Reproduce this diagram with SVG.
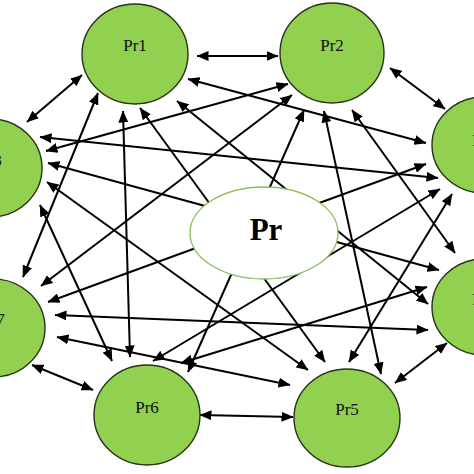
<svg xmlns="http://www.w3.org/2000/svg" width="474" height="474" viewBox="0 0 474 474">
<style>
.node{fill:#92d050;stroke:#26331a;stroke-width:1.4}
.lbl{font-family:"Liberation Serif",serif;font-size:17px;fill:#111;text-anchor:middle}
.edge line{stroke:#000;stroke-width:2;marker-start:url(#ah);marker-end:url(#ah)}
.center{fill:#fff;stroke:#8cbf5c;stroke-width:1.3}
.clbl{font-family:"Liberation Serif",serif;font-size:31px;font-weight:bold;fill:#000;text-anchor:middle}
</style>
<defs>
<marker id="ah" viewBox="0 0 12 10" refX="11.5" refY="5" markerWidth="12" markerHeight="10" markerUnits="userSpaceOnUse" orient="auto-start-reverse">
<path d="M0,0 L12,5 L0,10 z" fill="#000"/>
</marker>
</defs>
<rect width="474" height="474" fill="#fff"/>
<g id="connectors" class="edge">
<line x1="278" y1="56" x2="197" y2="56"/>
<line x1="390" y1="68" x2="445" y2="109"/>
<line x1="395" y1="383" x2="447" y2="343"/>
<line x1="200" y1="415" x2="293" y2="417"/>
<line x1="32" y1="365" x2="93" y2="390"/>
<line x1="27" y1="122" x2="82" y2="75"/>
<line x1="188" y1="79" x2="426" y2="143"/>
<line x1="177" y1="101" x2="428" y2="304"/>
<line x1="140" y1="108" x2="325" y2="362"/>
<line x1="123" y1="111" x2="130" y2="357"/>
<line x1="98" y1="93" x2="23" y2="277"/>
<line x1="288" y1="84" x2="46" y2="151"/>
<line x1="292" y1="95" x2="41" y2="286"/>
<line x1="304" y1="110" x2="188" y2="372"/>
<line x1="324" y1="111" x2="381" y2="374"/>
<line x1="352" y1="110" x2="455" y2="253"/>
<line x1="438" y1="178" x2="40" y2="137"/>
<line x1="426" y1="164" x2="48" y2="302"/>
<line x1="440" y1="189" x2="153" y2="361"/>
<line x1="452" y1="194" x2="349" y2="362"/>
<line x1="439" y1="270" x2="48" y2="163"/>
<line x1="428" y1="330" x2="55" y2="315"/>
<line x1="427" y1="287" x2="181" y2="363"/>
<line x1="308" y1="370" x2="47" y2="182"/>
<line x1="290" y1="385" x2="57" y2="337"/>
<line x1="112" y1="361" x2="40" y2="205"/>
</g>
<g id="Pr1"><ellipse class="node" cx="135" cy="54" rx="53" ry="50"/><text class="lbl" x="135" y="51">Pr1</text></g>
<g id="Pr2"><ellipse class="node" cx="332" cy="53" rx="52" ry="50"/><text class="lbl" x="332" y="51">Pr2</text></g>
<g id="Pr3"><ellipse class="node" cx="484" cy="145" rx="52" ry="48"/><text class="lbl" x="484" y="146">Pr3</text></g>
<g id="Pr4"><ellipse class="node" cx="484" cy="307" rx="52" ry="48"/><text class="lbl" x="484" y="305">Pr4</text></g>
<g id="Pr5"><ellipse class="node" cx="347" cy="418" rx="53" ry="49"/><text class="lbl" x="347" y="415">Pr5</text></g>
<g id="Pr6"><ellipse class="node" cx="147" cy="415" rx="53" ry="50"/><text class="lbl" x="147" y="413">Pr6</text></g>
<g id="Pr7"><ellipse class="node" cx="-7" cy="328" rx="52" ry="49"/><text class="lbl" x="-7" y="325">Pr7</text></g>
<g id="Pr8"><ellipse class="node" cx="-10" cy="168" rx="52" ry="49"/><text class="lbl" x="-10" y="166">Pr8</text></g>
<g id="Pr"><ellipse class="center" cx="264" cy="233" rx="74" ry="46"/><text class="clbl" x="266" y="240">Pr</text></g>
</svg>
